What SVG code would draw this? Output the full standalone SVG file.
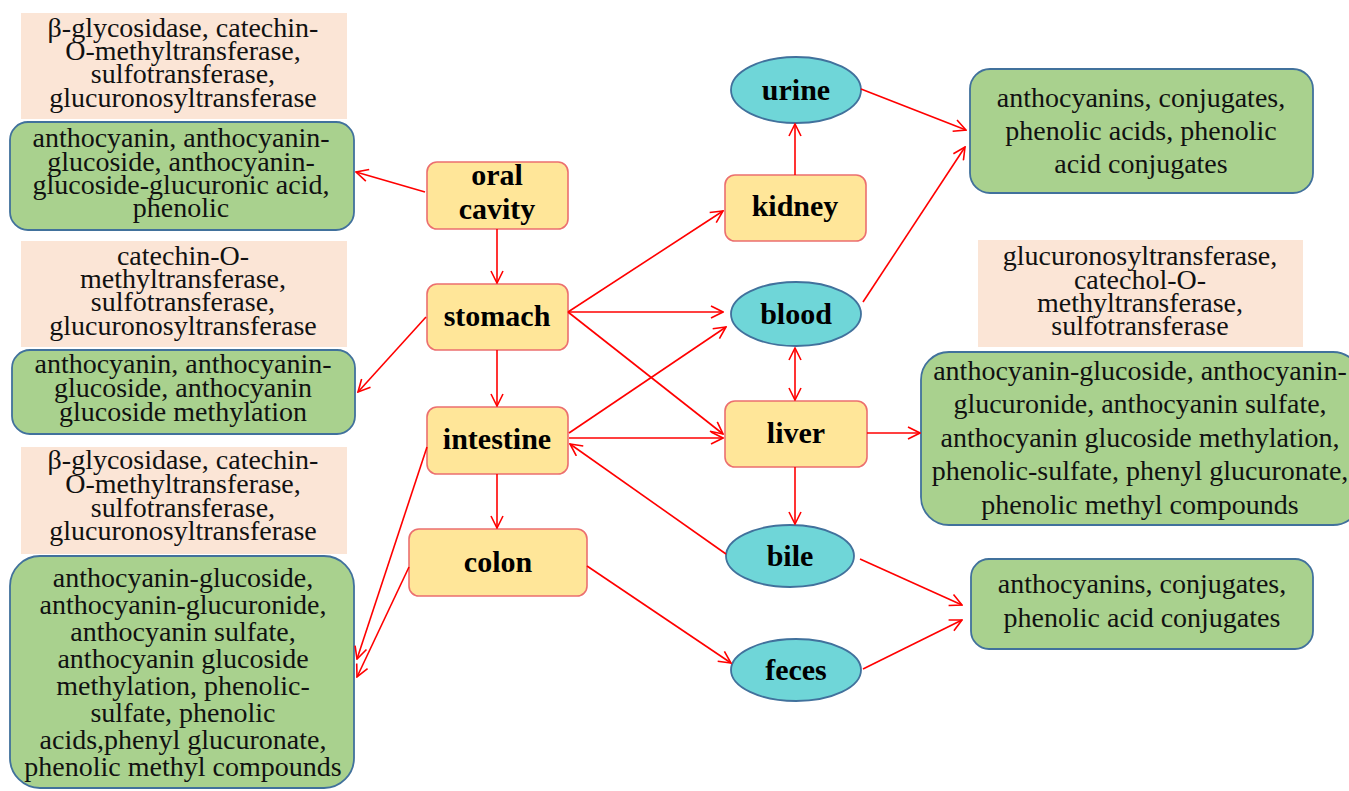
<svg xmlns="http://www.w3.org/2000/svg" width="1349" height="791" viewBox="0 0 1349 791">
<defs>
<marker id="ah" viewBox="0 0 14 14" refX="13" refY="7" markerWidth="14" markerHeight="14" markerUnits="userSpaceOnUse" orient="auto-start-reverse">
<path d="M1,1 L13,7 L1,13" fill="none" stroke="#FF0000" stroke-width="1.6"/>
</marker>
<style>
.enz{fill:#FBE5D6;stroke:none}
.grn{fill:#A9D18E;stroke:#41719C;stroke-width:1.8}
.org{fill:#FFE699;stroke:#EC6F6F;stroke-width:1.6}
.ell{fill:#6FD6D8;stroke:#41719C;stroke-width:1.8}
.t{font-family:"Liberation Serif","Times New Roman",serif;font-size:28px;fill:#111;text-anchor:middle}
.b{font-family:"Liberation Serif","Times New Roman",serif;font-size:30px;font-weight:bold;fill:#000;text-anchor:middle}
.c{fill:none;stroke:#FF0000;stroke-width:1.6;marker-end:url(#ah)}
.d{marker-start:url(#ah)}
</style>
</defs>
<rect width="1349" height="791" fill="#FFFFFF"/>

<g id="enzymes-oral">
<rect class="enz" x="21" y="13" width="326" height="106"/>
<text class="t" x="183" y="37">β-glycosidase, catechin-</text>
<text class="t" x="183" y="60">O-methyltransferase,</text>
<text class="t" x="183" y="83">sulfotransferase,</text>
<text class="t" x="183" y="107">glucuronosyltransferase</text>
</g>
<g id="products-oral">
<rect class="grn" x="10" y="122" width="344" height="108" rx="18"/>
<text class="t" x="181" y="147">anthocyanin, anthocyanin-</text>
<text class="t" x="181" y="171">glucoside, anthocyanin-</text>
<text class="t" x="181" y="194">glucoside-glucuronic acid,</text>
<text class="t" x="181" y="217">phenolic</text>
</g>
<g id="enzymes-stomach">
<rect class="enz" x="21" y="241" width="326" height="106"/>
<text class="t" x="183" y="265">catechin-O-</text>
<text class="t" x="183" y="288">methyltransferase,</text>
<text class="t" x="183" y="311">sulfotransferase,</text>
<text class="t" x="183" y="335">glucuronosyltransferase</text>
</g>
<g id="products-stomach">
<rect class="grn" x="12" y="350" width="343" height="84" rx="18"/>
<text class="t" x="183" y="373">anthocyanin, anthocyanin-</text>
<text class="t" x="183" y="397">glucoside, anthocyanin</text>
<text class="t" x="183" y="421">glucoside methylation</text>
</g>
<g id="enzymes-intestine">
<rect class="enz" x="21" y="447" width="326" height="107"/>
<text class="t" x="183" y="469">β-glycosidase, catechin-</text>
<text class="t" x="183" y="493">O-methyltransferase,</text>
<text class="t" x="183" y="517">sulfotransferase,</text>
<text class="t" x="183" y="540">glucuronosyltransferase</text>
</g>
<g id="products-intestine">
<rect class="grn" x="10" y="556" width="344" height="232" rx="30"/>
<text class="t" x="183" y="587">anthocyanin-glucoside,</text>
<text class="t" x="183" y="614">anthocyanin-glucuronide,</text>
<text class="t" x="183" y="641">anthocyanin sulfate,</text>
<text class="t" x="183" y="668">anthocyanin glucoside</text>
<text class="t" x="183" y="695">methylation, phenolic-</text>
<text class="t" x="183" y="722">sulfate, phenolic</text>
<text class="t" x="183" y="749">acids,phenyl glucuronate,</text>
<text class="t" x="183" y="776">phenolic methyl compounds</text>
</g>

<g id="oral-cavity">
<rect class="org" x="427" y="162" width="141" height="67" rx="10"/>
<text class="b" x="497" y="185">oral</text>
<text class="b" x="497" y="219">cavity</text>
</g>
<g id="stomach">
<rect class="org" x="427" y="284" width="141" height="66" rx="10"/>
<text class="b" x="497" y="326">stomach</text>
</g>
<g id="intestine">
<rect class="org" x="427" y="407" width="141" height="67" rx="10"/>
<text class="b" x="497" y="449">intestine</text>
</g>
<g id="colon">
<rect class="org" x="409" y="529" width="178" height="67" rx="10"/>
<text class="b" x="498" y="572">colon</text>
</g>
<g id="kidney">
<rect class="org" x="725" y="175" width="141" height="66" rx="10"/>
<text class="b" x="795" y="216">kidney</text>
</g>
<g id="liver">
<rect class="org" x="725" y="401" width="142" height="66" rx="10"/>
<text class="b" x="796" y="443">liver</text>
</g>
<g id="urine">
<ellipse class="ell" cx="796" cy="90" rx="65" ry="33"/>
<text class="b" x="796" y="100">urine</text>
</g>
<g id="blood">
<ellipse class="ell" cx="796" cy="314" rx="65" ry="32"/>
<text class="b" x="796" y="324">blood</text>
</g>
<g id="bile">
<ellipse class="ell" cx="790" cy="556" rx="64" ry="31"/>
<text class="b" x="790" y="566">bile</text>
</g>
<g id="feces">
<ellipse class="ell" cx="796" cy="670" rx="65" ry="31"/>
<text class="b" x="796" y="680">feces</text>
</g>

<g id="products-urine">
<rect class="grn" x="970" y="69" width="343" height="124" rx="20"/>
<text class="t" x="1141" y="107">anthocyanins, conjugates,</text>
<text class="t" x="1141" y="140">phenolic acids, phenolic</text>
<text class="t" x="1141" y="173">acid conjugates</text>
</g>
<g id="enzymes-liver">
<rect class="enz" x="978" y="240" width="325" height="107"/>
<text class="t" x="1140" y="265">glucuronosyltransferase,</text>
<text class="t" x="1140" y="289">catechol-O-</text>
<text class="t" x="1140" y="312">methyltransferase,</text>
<text class="t" x="1140" y="335">sulfotransferase</text>
</g>
<g id="products-liver">
<rect class="grn" x="921" y="352" width="440" height="173" rx="28"/>
<text class="t" x="1140" y="380">anthocyanin-glucoside, anthocyanin-</text>
<text class="t" x="1140" y="413">glucuronide, anthocyanin sulfate,</text>
<text class="t" x="1140" y="447">anthocyanin glucoside methylation,</text>
<text class="t" x="1140" y="480">phenolic-sulfate, phenyl glucuronate,</text>
<text class="t" x="1140" y="514">phenolic methyl compounds</text>
</g>
<g id="products-feces">
<rect class="grn" x="971" y="559" width="342" height="90" rx="18"/>
<text class="t" x="1142" y="593">anthocyanins, conjugates,</text>
<text class="t" x="1142" y="627">phenolic acid conjugates</text>
</g>

<g id="connectors">
<line class="c" x1="425" y1="192" x2="356" y2="172"/>
<line class="c" x1="497" y1="229" x2="497" y2="283"/>
<line class="c" x1="426" y1="317" x2="358" y2="392"/>
<line class="c" x1="497" y1="350" x2="497" y2="406"/>
<line class="c" x1="427" y1="447" x2="357" y2="659"/>
<line class="c" x1="497" y1="474" x2="497" y2="528"/>
<line class="c" x1="409" y1="567" x2="357" y2="677"/>
<line class="c" x1="568" y1="312" x2="723" y2="211"/>
<line class="c" x1="568" y1="312" x2="723" y2="312"/>
<line class="c" x1="568" y1="312" x2="723" y2="434"/>
<line class="c" x1="569" y1="433" x2="726" y2="327"/>
<line class="c" x1="569" y1="438" x2="723" y2="438"/>
<line class="c" x1="726" y1="554" x2="570" y2="444"/>
<line class="c" x1="587" y1="566" x2="731" y2="663"/>
<line class="c" x1="795" y1="175" x2="795" y2="124"/>
<line class="c d" x1="795" y1="348" x2="795" y2="400"/>
<line class="c" x1="795" y1="467" x2="795" y2="524"/>
<line class="c" x1="867" y1="433" x2="920" y2="433"/>
<line class="c" x1="861" y1="89" x2="966" y2="130"/>
<line class="c" x1="863" y1="302" x2="965" y2="147"/>
<line class="c" x1="860" y1="559" x2="962" y2="605"/>
<line class="c" x1="863" y1="669" x2="962" y2="620"/>
</g>
</svg>
